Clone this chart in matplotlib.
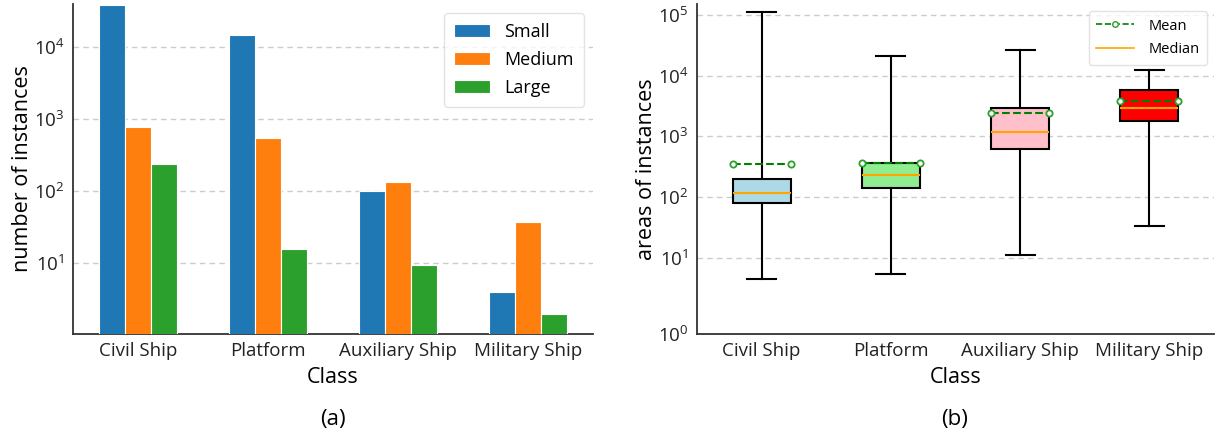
import numpy as np
import matplotlib
matplotlib.use("Agg")
import matplotlib.pyplot as plt
from matplotlib import ticker
from matplotlib.lines import Line2D

plt.rcParams['font.family'] = ['Open Sans', 'DejaVu Sans']
plt.rcParams['mathtext.fontset'] = 'custom'
plt.rcParams['mathtext.rm'] = 'Open Sans'
plt.rcParams['mathtext.it'] = 'Open Sans:italic'

# ---- data --------------------------------------------------------------
classes = ["Civil Ship", "Platform", "Auxiliary Ship", "Military Ship"]

# (a) number of instances per size bucket
small = [38000, 14700, 100, 4]
medium = [780, 550, 133, 37]
large = [240, 16, 9.5, 2]

# (b) area statistics per class
area_whislo = [5.3, 6.2, 11, 34]
area_q1 = [80, 141, 615, 1820]
area_med = [119, 235, 1186, 2980]
area_q3 = [202, 362, 2980, 5820]
area_whishi = [112000, 20800, 25800, 12100]
area_mean = [353, 365, 2440, 3790]

box_colors = ["lightblue", "lightgreen", "pink", "red"]

# ---- figure --------------------------------------------------------------
fig = plt.figure(figsize=(12.24, 4.41), dpi=100)
ax1 = fig.add_axes([73 / 1224, 1 - 334 / 441, 520 / 1224, 330 / 441])
ax2 = fig.add_axes([697 / 1224, 1 - 334 / 441, 517 / 1224, 330 / 441])

spine_col = "#333333"
grid_kw = dict(color="#cccccc", linestyle=(0, (4, 3)), linewidth=1.0)

# (a) grouped bars on log axis
x = np.arange(len(classes))
w = 0.2
ax1.bar(x - w, small, w, color="#1f77b4", edgecolor="white", linewidth=0.8, label="Small", zorder=3)
ax1.bar(x, medium, w, color="#ff7f0e", edgecolor="white", linewidth=0.8, label="Medium", zorder=3)
ax1.bar(x + w, large, w, color="#2ca02c", edgecolor="white", linewidth=0.8, label="Large", zorder=3)
ax1.set_yscale("log")
ax1.set_ylim(1.05, 3.9e4)
ax1.set_xlim(-0.5, 3.5)
ax1.yaxis.set_major_locator(ticker.FixedLocator([10, 100, 1000, 10000]))
ax1.yaxis.set_minor_locator(ticker.NullLocator())
ax1.set_xticks(x)
ax1.set_xticklabels(classes)
ax1.set_ylabel("number of instances", fontsize=15.5, labelpad=1)
ax1.set_xlabel("Class", fontsize=15.5, labelpad=5)
ax1.legend(loc="upper right", fontsize=13, handlelength=2.0, handleheight=0.75,
           borderpad=0.55, labelspacing=0.55, handletextpad=0.8, edgecolor="#dddddd")

# (b) box plot, bottom decade drawn a bit taller
k = 76 / 60.8


def fwd(v):
    lv = np.log10(np.maximum(v, 1e-12))
    return np.where(lv >= 1, lv, 1 - k * (1 - lv))


def inv(u):
    u = np.asarray(u, dtype=float)
    return np.where(u >= 1, 10 ** u, 10 ** (1 - (1 - u) / k))


stats = []
for i, name in enumerate(classes):
    stats.append(dict(label=name, whislo=area_whislo[i], q1=area_q1[i], med=area_med[i],
                      q3=area_q3[i], whishi=area_whishi[i], mean=area_mean[i], fliers=[]))

bp = ax2.bxp(stats, widths=0.45, patch_artist=True, showmeans=True, meanline=True,
             boxprops=dict(edgecolor="black", linewidth=1.5),
             whiskerprops=dict(color="black", linewidth=1.5),
             capprops=dict(color="black", linewidth=1.5),
             medianprops=dict(color="orange", linewidth=1.5),
             meanprops=dict(color="green", linestyle="--", linewidth=1.5, marker="o",
                            markersize=4.5, markerfacecolor="white", markeredgecolor="#2ca02c",
                            markeredgewidth=1.3),
             zorder=3)
for patch, c in zip(bp["boxes"], box_colors):
    patch.set_facecolor(c)

ax2.set_yscale("function", functions=(fwd, inv))
ax2.set_ylim(1, 1.5e5)
ax2.set_xlim(0.5, 4.5)
ax2.yaxis.set_major_locator(ticker.FixedLocator([1, 10, 100, 1000, 10000, 100000]))
ax2.yaxis.set_major_formatter(ticker.LogFormatterSciNotation())
ax2.yaxis.set_minor_locator(ticker.NullLocator())
ax2.set_ylabel("areas of instances", fontsize=15.5, labelpad=1)
ax2.set_xlabel("Class", fontsize=15.5, labelpad=5)
handles = [Line2D([], [], color="green", linestyle="--", linewidth=1.2, marker="o", markersize=4,
                  markerfacecolor="white", markeredgecolor="#2ca02c"),
           Line2D([], [], color="orange", linewidth=1.2)]
ax2.legend(handles, ["Mean", "Median"], loc="upper right", fontsize=10.5, handlelength=2.6,
           handletextpad=1.0, borderpad=0.5, labelspacing=0.6, edgecolor="#dddddd")

for ax in (ax1, ax2):
    ax.spines["top"].set_visible(False)
    ax.spines["right"].set_visible(False)
    ax.spines["left"].set_color(spine_col)
    ax.spines["bottom"].set_color(spine_col)
    ax.spines["left"].set_linewidth(1.3)
    ax.spines["bottom"].set_linewidth(1.3)
    ax.tick_params(length=0, labelsize=13.5, pad=6, colors="#222222")
    ax.yaxis.grid(True, **grid_kw)
    ax.set_axisbelow(True)

fig.text(333 / 1224, 1 - 420 / 441, "(a)", fontsize=16, ha="center", va="center")
fig.text(955 / 1224, 1 - 420 / 441, "(b)", fontsize=16, ha="center", va="center")

fig.savefig("out.png", dpi=100)
